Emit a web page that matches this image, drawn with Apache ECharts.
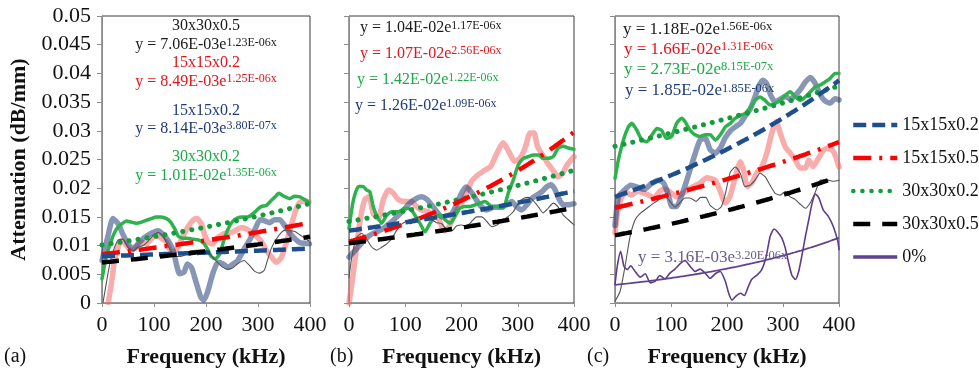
<!DOCTYPE html>
<html>
<head>
<meta charset="utf-8">
<script src="https://cdn.jsdelivr.net/npm/echarts@6/dist/echarts.min.js"></script>
<style>
html,body{margin:0;padding:0;background:#fff;}
#chart{width:979px;height:375px;}
</style>
</head>
<body>
<div id="chart"></div>
<script>
// ---- axis ticks ----
const yTickLabels = ['0','0.005','0.01','0.015','0.02','0.025','0.03','0.035','0.04','0.045','0.05'];
const xTickLabels = ['0','100','200','300','400'];
const panelTags = ['(a)','(b)','(c)'];

// ---- measured attenuation, [frequency kHz, dB/mm] ----
// panel (a)
const rawA_155 = [[12,0.0001],[18,0.0033],[24,0.0074],[31,0.0097],[37,0.0109],[47,0.0100],[56,0.0091],[66,0.0097],[76,0.0106],[85,0.0103],[95,0.0112],[104,0.0117],[114,0.0113],[124,0.0106],[130,0.0094],[137,0.0086],[146,0.0097],[156,0.0117],[165,0.0132],[175,0.0144],[183,0.0147],[191,0.0138],[197,0.0120],[204,0.0106],[213,0.0103],[220,0.0112],[229,0.0118],[239,0.0122],[249,0.0123],[258,0.0127],[268,0.0131],[278,0.0129],[287,0.0123],[297,0.0116],[306,0.0108],[316,0.0092],[326,0.0080],[335,0.0071],[344,0.0078],[350,0.0092],[356,0.0110],[364,0.0135],[372,0.0160],[380,0.0175],[390,0.0178],[398,0.0176]];
const rawA_152 = [[0,0.0074],[11,0.0115],[21,0.0147],[31,0.0138],[40,0.0120],[50,0.0103],[60,0.0094],[69,0.0103],[79,0.0112],[88,0.0118],[98,0.0123],[108,0.0126],[117,0.0120],[127,0.0109],[137,0.0091],[143,0.0068],[149,0.0051],[158,0.0054],[164,0.0068],[172,0.0062],[181,0.0036],[190,0.0010],[196,0.0005],[204,0.0022],[213,0.0051],[223,0.0071],[233,0.0068],[242,0.0062],[252,0.0068],[261,0.0074],[274,0.0095],[284,0.0110],[294,0.0128],[304,0.0145],[313,0.0143],[322,0.0140],[332,0.0145],[342,0.0145],[351,0.0135],[361,0.0122],[370,0.0113],[381,0.0105],[390,0.0104],[399,0.0103]];
const rawA_305 = [[2,0.0001],[8,0.0033],[15,0.0068],[23,0.0094],[31,0.0110],[40,0.0111],[50,0.0097],[60,0.0091],[69,0.0097],[79,0.0100],[88,0.0107],[98,0.0117],[108,0.0123],[117,0.0117],[125,0.0103],[132,0.0091],[141,0.0081],[151,0.0081],[160,0.0084],[170,0.0091],[181,0.0092],[192,0.0092],[204,0.0088],[213,0.0080],[222,0.0071],[231,0.0063],[241,0.0059],[251,0.0061],[262,0.0069],[273,0.0074],[284,0.0065],[294,0.0055],[303,0.0052],[312,0.0057],[318,0.0074],[326,0.0096],[335,0.0111],[345,0.0123],[353,0.0127],[363,0.0126],[372,0.0124],[380,0.0119],[390,0.0113],[398,0.0108]];
const rawA_302 = [[0,0.0042],[8,0.0080],[18,0.0109],[28,0.0129],[37,0.0137],[47,0.0143],[56,0.0141],[66,0.0139],[76,0.0141],[85,0.0144],[95,0.0147],[104,0.0150],[114,0.0150],[124,0.0147],[132,0.0141],[140,0.0129],[147,0.0116],[156,0.0113],[165,0.0113],[175,0.0111],[185,0.0110],[194,0.0106],[203,0.0094],[210,0.0081],[218,0.0077],[226,0.0085],[234,0.0108],[242,0.0128],[251,0.0142],[260,0.0148],[270,0.0150],[280,0.0150],[290,0.0155],[298,0.0162],[306,0.0168],[316,0.0170],[325,0.0178],[333,0.0185],[340,0.0191],[350,0.0186],[361,0.0182],[370,0.0186],[380,0.0185],[390,0.0180],[398,0.0175]];

// panel (b)
const rawB_155 = [[0,0.0000],[6,0.0040],[12,0.0086],[20,0.0145],[28,0.0180],[36,0.0185],[43,0.0156],[52,0.0147],[61,0.0180],[70,0.0197],[79,0.0191],[88,0.0180],[100,0.0177],[111,0.0177],[120,0.0168],[129,0.0162],[141,0.0159],[150,0.0153],[159,0.0147],[169,0.0126],[178,0.0133],[188,0.0156],[197,0.0169],[207,0.0188],[218,0.0212],[229,0.0223],[241,0.0231],[252,0.0238],[263,0.0261],[274,0.0279],[284,0.0264],[294,0.0247],[304,0.0252],[313,0.0270],[322,0.0296],[329,0.0296],[335,0.0273],[344,0.0258],[353,0.0244],[362,0.0232],[371,0.0220],[379,0.0225],[388,0.0241],[400,0.0255]];
const rawB_152 = [[0,0.0080],[14,0.0095],[25,0.0107],[37,0.0118],[49,0.0124],[61,0.0130],[73,0.0139],[85,0.0150],[97,0.0162],[108,0.0174],[120,0.0182],[129,0.0185],[138,0.0181],[147,0.0171],[156,0.0159],[165,0.0150],[174,0.0152],[183,0.0156],[191,0.0171],[200,0.0191],[208,0.0202],[217,0.0194],[226,0.0180],[235,0.0168],[245,0.0162],[257,0.0167],[268,0.0167],[280,0.0171],[289,0.0177],[298,0.0168],[307,0.0162],[316,0.0171],[325,0.0182],[334,0.0188],[343,0.0194],[351,0.0202],[359,0.0206],[366,0.0198],[373,0.0182],[381,0.0171],[390,0.0171],[400,0.0173]];
const rawB_305 = [[0,0.0045],[6,0.0086],[14,0.0115],[23,0.0121],[31,0.0112],[40,0.0098],[49,0.0092],[58,0.0097],[67,0.0103],[76,0.0112],[85,0.0127],[94,0.0138],[103,0.0143],[111,0.0146],[120,0.0149],[129,0.0150],[138,0.0147],[147,0.0145],[156,0.0140],[165,0.0138],[174,0.0127],[183,0.0126],[191,0.0134],[200,0.0136],[209,0.0134],[218,0.0142],[227,0.0150],[236,0.0150],[245,0.0142],[254,0.0133],[263,0.0136],[271,0.0142],[282,0.0150],[292,0.0159],[301,0.0174],[310,0.0182],[319,0.0184],[328,0.0178],[337,0.0167],[345,0.0157],[354,0.0165],[363,0.0174],[372,0.0167],[381,0.0153],[390,0.0145],[400,0.0136]];
const rawB_302 = [[0,0.0130],[8,0.0180],[17,0.0203],[25,0.0203],[31,0.0197],[37,0.0194],[43,0.0168],[49,0.0153],[58,0.0139],[67,0.0153],[76,0.0159],[88,0.0159],[100,0.0165],[111,0.0162],[117,0.0153],[126,0.0139],[135,0.0124],[144,0.0139],[153,0.0150],[162,0.0153],[171,0.0145],[180,0.0139],[188,0.0150],[197,0.0165],[206,0.0168],[215,0.0168],[224,0.0171],[233,0.0174],[242,0.0177],[254,0.0168],[265,0.0168],[274,0.0165],[283,0.0191],[292,0.0214],[301,0.0241],[310,0.0252],[319,0.0255],[328,0.0258],[337,0.0258],[345,0.0252],[354,0.0252],[363,0.0255],[372,0.0270],[381,0.0273],[390,0.0270],[400,0.0268]];

// panel (c)
const rawC_155 = [[0,0.0122],[5,0.0160],[12,0.0185],[20,0.0192],[30,0.0188],[40,0.0195],[50,0.0192],[60,0.0188],[70,0.0183],[80,0.0195],[90,0.0198],[100,0.0192],[110,0.0185],[120,0.0190],[134,0.0200],[152,0.0209],[164,0.0218],[179,0.0214],[188,0.0195],[197,0.0174],[205,0.0185],[215,0.0220],[224,0.0246],[230,0.0230],[236,0.0203],[245,0.0210],[254,0.0228],[262,0.0237],[271,0.0261],[280,0.0296],[288,0.0316],[295,0.0296],[304,0.0272],[313,0.0261],[322,0.0249],[331,0.0235],[340,0.0235],[346,0.0249],[354,0.0238],[362,0.0250],[372,0.0266],[380,0.0270],[390,0.0264],[400,0.0237]];
const rawC_152 = [[0,0.0135],[6,0.0185],[15,0.0195],[28,0.0205],[40,0.0202],[52,0.0198],[65,0.0208],[77,0.0214],[86,0.0210],[94,0.0192],[102,0.0168],[110,0.0168],[118,0.0185],[127,0.0210],[134,0.0232],[143,0.0260],[152,0.0284],[161,0.0287],[170,0.0267],[179,0.0261],[188,0.0270],[197,0.0288],[206,0.0300],[215,0.0307],[224,0.0313],[232,0.0325],[241,0.0337],[250,0.0359],[257,0.0378],[264,0.0388],[271,0.0382],[278,0.0362],[286,0.0350],[295,0.0355],[304,0.0360],[313,0.0355],[322,0.0362],[331,0.0372],[340,0.0385],[349,0.0393],[358,0.0382],[367,0.0362],[375,0.0352],[384,0.0348],[393,0.0356],[400,0.0354]];
const rawC_305 = [[0,0.0003],[9,0.0020],[18,0.0064],[27,0.0116],[36,0.0145],[45,0.0156],[57,0.0165],[69,0.0174],[80,0.0181],[89,0.0187],[98,0.0177],[107,0.0167],[116,0.0175],[125,0.0183],[134,0.0183],[145,0.0177],[153,0.0184],[162,0.0184],[170,0.0170],[182,0.0162],[190,0.0168],[197,0.0190],[206,0.0228],[215,0.0237],[224,0.0225],[232,0.0203],[241,0.0205],[250,0.0214],[259,0.0226],[268,0.0220],[277,0.0205],[286,0.0191],[295,0.0188],[304,0.0194],[313,0.0185],[322,0.0180],[331,0.0172],[340,0.0165],[349,0.0175],[358,0.0194],[367,0.0214],[380,0.0214],[390,0.0212],[400,0.0214]];
const rawC_302 = [[0,0.0217],[6,0.0249],[15,0.0284],[24,0.0307],[30,0.0313],[39,0.0301],[48,0.0284],[57,0.0281],[66,0.0293],[75,0.0304],[83,0.0301],[92,0.0287],[101,0.0290],[110,0.0313],[119,0.0322],[125,0.0316],[134,0.0301],[143,0.0293],[152,0.0290],[161,0.0293],[170,0.0293],[179,0.0284],[188,0.0293],[197,0.0307],[206,0.0313],[215,0.0322],[224,0.0327],[232,0.0330],[241,0.0339],[250,0.0353],[259,0.0359],[268,0.0353],[277,0.0345],[286,0.0348],[295,0.0353],[304,0.0362],[313,0.0368],[322,0.0359],[331,0.0353],[340,0.0359],[349,0.0368],[358,0.0377],[367,0.0380],[375,0.0385],[384,0.0391],[393,0.0400],[400,0.0400]];
const rawC_000 = [[0,0.0032],[4,0.0064],[10,0.0090],[16,0.0064],[22,0.0058],[28,0.0065],[36,0.0055],[45,0.0045],[54,0.0051],[63,0.0035],[72,0.0038],[80,0.0048],[89,0.0042],[98,0.0052],[107,0.0059],[116,0.0068],[125,0.0074],[134,0.0064],[143,0.0055],[152,0.0059],[161,0.0052],[170,0.0043],[179,0.0051],[188,0.0055],[197,0.0038],[203,0.0017],[209,0.0005],[216,0.0012],[224,0.0017],[231,0.0013],[237,0.0026],[244,0.0041],[253,0.0048],[262,0.0058],[270,0.0081],[277,0.0116],[284,0.0129],[291,0.0123],[298,0.0113],[304,0.0096],[310,0.0070],[316,0.0048],[322,0.0041],[328,0.0055],[334,0.0084],[340,0.0116],[346,0.0145],[352,0.0174],[358,0.0190],[364,0.0183],[372,0.0162],[381,0.0151],[390,0.0133],[398,0.0107],[400,0.0093]];

// ---- exponential fits y = a·e^(b·f), f in Hz ----
const fitNamesAB = ['30x30x0.5','15x15x0.5','30x30x0.2','15x15x0.2'];
const fitNamesC  = ['30x30x0.5','15x15x0.5','30x30x0.2','15x15x0.2','0%'];
const fitA_a = [7.06e-3, 8.49e-3, 1.01e-2, 8.14e-3];
const fitA_b = [1.23e-6, 1.25e-6, 1.35e-6, 3.80e-7];
const fitB_a = [1.04e-2, 1.07e-2, 1.42e-2, 1.26e-2];
const fitB_b = [1.17e-6, 2.56e-6, 1.22e-6, 1.09e-6];
const fitC_a = [1.18e-2, 1.66e-2, 2.73e-2, 1.85e-2, 3.16e-3];
const fitC_b = [1.56e-6, 1.31e-6, 8.15e-7, 1.85e-6, 3.20e-6];

// sample names written above each equation in panel (a)
const eqTitlesA = ['30x30x0.5','15x15x0.2','15x15x0.2','30x30x0.2'];

const legendNames = ['15x15x0.2','15x15x0.5','30x30x0.2','30x30x0.5','0%'];

// ---- styling per specimen ----
const STYLE = {
  '15x15x0.2': { raw: { color: 'rgba(38,64,122,0.55)', width: 5.5 }, fit: { color: '#1f4e8c', width: 4.5, type: [13, 6], cap: 'butt' }, text: '#1f3b78' },
  '15x15x0.5': { raw: { color: 'rgba(242,104,104,0.55)', width: 5.5 }, fit: { color: '#ff0000', width: 4.5, type: [18, 8, 3, 8], cap: 'butt' }, text: '#e3141b' },
  '30x30x0.2': { raw: { color: '#2db24d', width: 3.5 }, fit: { color: '#169a3e', width: 5, type: [0.1, 9], cap: 'round' }, text: '#1caa47' },
  '30x30x0.5': { raw: { color: '#555555', width: 1.1 }, fit: { color: '#000000', width: 4.5, type: [17, 12], cap: 'butt' }, text: '#1a1a1a' },
  '0%':        { raw: { color: '#5b3d8a', width: 1.6 }, fit: { color: '#5f4290', width: 1.8, type: 'solid', cap: 'butt' }, text: '#6b5c8e' }
};

const grids = [
  { left: 102, top: 16, width: 208, height: 287 },
  { left: 349, top: 16, width: 225, height: 287 },
  { left: 615, top: 16, width: 224, height: 287 }
];

function sci(v) {
  const parts = v.toExponential(2).split('e');
  const n = parseInt(parts[1], 10);
  return parts[0] + 'E' + (n < 0 ? '-' : '+') + String(Math.abs(n)).padStart(2, '0');
}

function fitCurve(a, b) {
  const pts = [];
  for (let f = 0; f <= 400; f += 4) pts.push([f, a * Math.exp(b * f * 1000)]);
  return pts;
}

const series = [];
function addRaw(panel, key, data) {
  const s = STYLE[key].raw;
  series.push({
    type: 'line', name: key + ' measured ' + panel, xAxisIndex: panel, yAxisIndex: panel,
    data: data, symbol: 'none', smooth: 0.2, silent: true, z: 2,
    lineStyle: { color: s.color, width: s.width, join: 'round', cap: 'round' }
  });
}
function addFit(panel, key, a, b, z) {
  const s = STYLE[key].fit;
  series.push({
    type: 'line', name: key, xAxisIndex: panel, yAxisIndex: panel,
    data: fitCurve(a, b), symbol: 'none', silent: true, z: z,
    itemStyle: { color: s.color },
    lineStyle: { color: s.color, width: s.width, type: s.type, cap: s.cap }
  });
}

// measured curves
addRaw(0, '15x15x0.5', rawA_155); addRaw(0, '15x15x0.2', rawA_152); addRaw(0, '30x30x0.2', rawA_302); addRaw(0, '30x30x0.5', rawA_305);
addRaw(1, '15x15x0.5', rawB_155); addRaw(1, '15x15x0.2', rawB_152); addRaw(1, '30x30x0.2', rawB_302); addRaw(1, '30x30x0.5', rawB_305);
addRaw(2, '15x15x0.5', rawC_155); addRaw(2, '15x15x0.2', rawC_152); addRaw(2, '30x30x0.2', rawC_302); addRaw(2, '30x30x0.5', rawC_305); addRaw(2, '0%', rawC_000);

// trend lines (black drawn last)
const fitOrder = { '30x30x0.2': 3, '15x15x0.5': 4, '15x15x0.2': 5, '30x30x0.5': 6, '0%': 3 };
const fitSets = [[fitNamesAB, fitA_a, fitA_b], [fitNamesAB, fitB_a, fitB_b], [fitNamesC, fitC_a, fitC_b]];
// legend takes its icon from the first series of each name, so panel (c) goes first
[2, 0, 1].forEach(p => {
  const [names, aa, bb] = fitSets[p];
  names.forEach((n, i) => addFit(p, n, aa[i], bb[i], fitOrder[n]));
});

const xAxes = grids.map((g, i) => ({
  type: 'value', gridIndex: i, min: 0, max: 400, interval: 100,
  name: 'Frequency (kHz)', nameLocation: 'middle', nameGap: 43,
  nameTextStyle: { fontFamily: 'Liberation Serif', fontWeight: 'bold', fontSize: 22, color: '#111' },
  axisLine: { show: true, lineStyle: { color: '#8c8c8c', width: 1 } },
  axisTick: { show: true, length: 4, lineStyle: { color: '#8c8c8c' } },
  axisLabel: { margin: 11, fontFamily: 'Liberation Serif', fontSize: 22, color: '#111',
               formatter: v => xTickLabels[Math.round(v / 100)] },
  splitLine: { show: false }
}));
const yAxes = grids.map((g, i) => ({
  type: 'value', gridIndex: i, min: 0, max: 0.05, interval: 0.005,
  name: i === 0 ? 'Attenuation (dB/mm)' : '', nameLocation: 'middle', nameGap: 72,
  nameTextStyle: { fontFamily: 'Liberation Serif', fontWeight: 'bold', fontSize: 22, color: '#111' },
  axisLine: { show: true, lineStyle: { color: '#8c8c8c', width: 1 } },
  axisTick: { show: true, length: 5, lineStyle: { color: '#8c8c8c' } },
  axisLabel: { show: i === 0, margin: 11, fontFamily: 'Liberation Serif', fontSize: 22, color: '#111',
               formatter: v => yTickLabels[Math.round(v / 0.005)] },
  splitLine: { show: false }
}));

// ---- equation and caption text ----
function eqText(a, b) {
  return '{m|y = ' + sci(a) + 'e}{s|' + sci(b) + 'x}';
}
function richFor(color, big) {
  const m = big ? 17 : 16, s = big ? 12.5 : 12;
  return {
    m: { fontFamily: 'Liberation Serif', fontSize: m, lineHeight: 18, verticalAlign: 'middle', fill: color },
    s: { fontFamily: 'Liberation Serif', fontSize: s, lineHeight: 18, height: 13, verticalAlign: 'top', fill: color }
  };
}
const graphics = [];
function textEl(x, y, text, color, opts) {
  opts = opts || {};
  graphics.push({
    type: 'text', x: x, y: y, silent: true, z: 50,
    style: Object.assign({
      text: text, fill: color, fontFamily: 'Liberation Serif', fontSize: opts.size || 16,
      align: opts.align || 'center', verticalAlign: 'middle',
      textAlign: opts.align || 'center', textVerticalAlign: 'middle'
    }, opts.rich ? { rich: opts.rich } : {})
  });
}

// panel (a): centred captions
const aCx = grids[0].left + grids[0].width / 2;
const aRows = [[25.5, 45], [63, 81.5], [110.5, 128.5], [157, 175.5]];
const aKeys = ['30x30x0.5', '15x15x0.5', '15x15x0.2', '30x30x0.2'];
const aIdx = [0, 1, 3, 2];
aKeys.forEach((k, j) => {
  const c = STYLE[k].text;
  const i = aIdx[j];
  textEl(aCx, aRows[j][0], eqTitlesA[j], c, { size: 16 });
  textEl(aCx, aRows[j][1], eqText(fitA_a[i], fitA_b[i]), c, { rich: richFor(c, false) });
});

// panel (b)
const bRows = [[360, 28], [360, 53.5], [357, 80], [355, 106]];
fitNamesAB.forEach((k, i) => {
  const c = STYLE[k].text;
  textEl(bRows[i][0], bRows[i][1], eqText(fitB_a[i], fitB_b[i]), c, { align: 'left', rich: richFor(c, false) });
});

// panel (c)
const cRows = [[623, 29.5], [624, 49.5], [624, 69.5], [625, 91], [638, 258]];
fitNamesC.forEach((k, i) => {
  const c = STYLE[k].text;
  textEl(cRows[i][0], cRows[i][1], eqText(fitC_a[i], fitC_b[i]), c, { align: 'left', rich: richFor(c, true) });
});

// panel tags
[[4, 357], [330, 357], [587, 357]].forEach((p, i) => {
  textEl(p[0], p[1], panelTags[i], '#111', { align: 'left', size: 20 });
});

const option = {
  backgroundColor: '#ffffff',
  animation: false,
  grid: grids.map(g => Object.assign({ show: true, borderColor: '#3a3a3a', borderWidth: 1, backgroundColor: 'transparent' }, g)),
  xAxis: xAxes,
  yAxis: yAxes,
  legend: {
    orient: 'vertical', left: 846, top: 111, itemWidth: 44, itemHeight: 18, itemGap: 15,
    selectedMode: false,
    itemStyle: { opacity: 0 },
    textStyle: { fontFamily: 'Liberation Serif', fontSize: 18, color: '#111' },
    data: legendNames.map(n => ({ name: n, lineStyle: { width: n === '0%' ? 3.5 : 4.5 } }))
  },
  series: series,
  graphic: graphics
};

const chart = echarts.init(document.getElementById('chart'), null, { renderer: 'canvas' });
chart.setOption(option);
</script>
</body>
</html>
